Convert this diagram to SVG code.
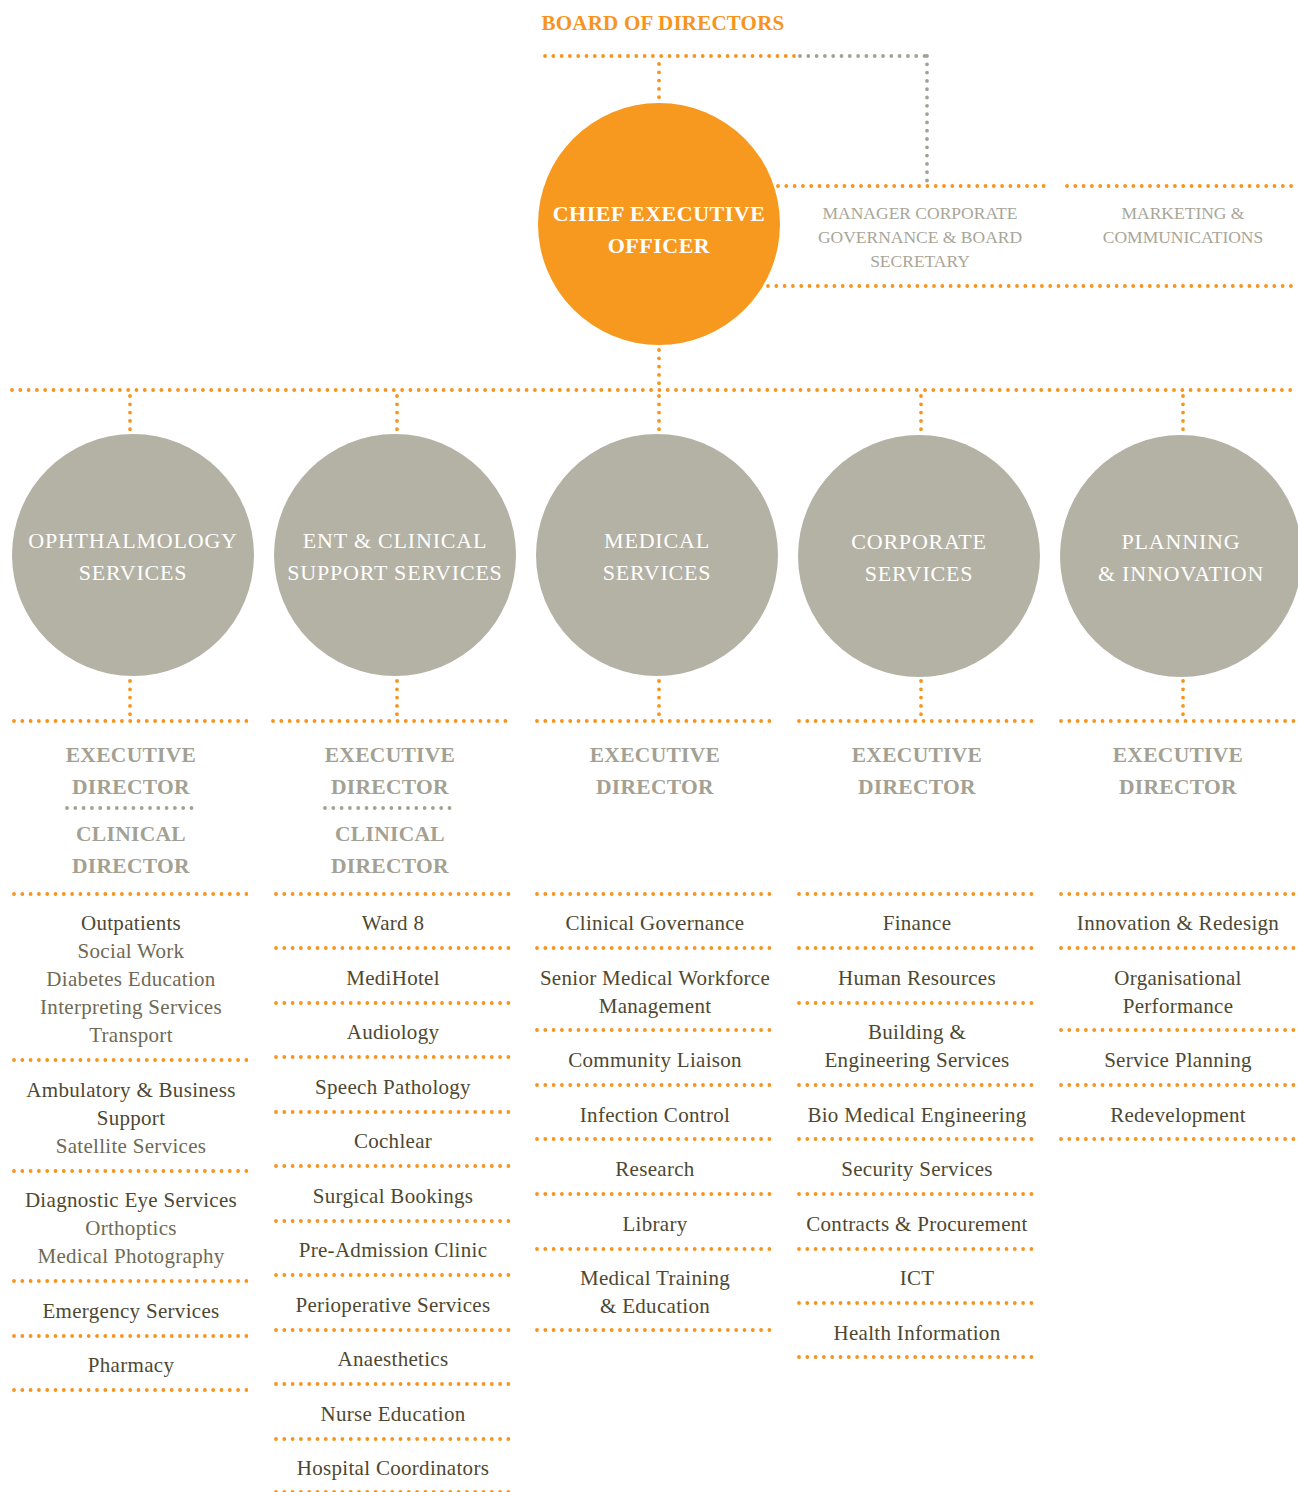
<svg xmlns="http://www.w3.org/2000/svg" width="1298" height="1492" viewBox="0 0 1298 1492">
<style>
.d{fill:none;stroke:#f7941d;stroke-width:3.8;stroke-linecap:round;stroke-dasharray:0 8.3}
.g{fill:none;stroke:#a3a196;stroke-width:3.8;stroke-linecap:round;stroke-dasharray:0 8.3}
text{font-family:"Liberation Serif","DejaVu Serif",serif;text-anchor:middle}
.board{fill:#f7941d;font-size:21px;font-weight:bold;letter-spacing:0.2px}
.ceo{fill:#fff;font-size:22px;font-weight:bold;letter-spacing:0.5px}
.side{fill:#a8a699;font-size:17.5px}
.circ{fill:#fff;font-size:22px;letter-spacing:0.8px}
.hd{fill:#a3a193;font-size:21.5px;font-weight:bold;letter-spacing:0.3px}
.it{fill:#4d4832;font-size:21px;letter-spacing:0.3px}
.sub{fill:#6e6a55;font-size:21px;letter-spacing:0.3px}
.gc{fill:#b4b2a5}
</style>
<g id="connectors">
<line class="d" x1="545" y1="56" x2="795" y2="56"/>
<line class="g" x1="800" y1="56" x2="927" y2="56"/>
<line class="g" x1="927" y1="56" x2="927" y2="182"/>
<line class="d" x1="659" y1="64" x2="659" y2="98"/>
<line class="d" x1="778" y1="186" x2="1044" y2="186"/>
<line class="d" x1="1067" y1="186" x2="1298" y2="186"/>
<line class="d" x1="768" y1="286" x2="1298" y2="286"/>
<line class="d" x1="659" y1="350" x2="659" y2="384"/>
<line class="d" x1="12" y1="390" x2="1298" y2="390"/>
<line class="d" x1="130" y1="396" x2="130" y2="430"/>
<line class="d" x1="397" y1="396" x2="397" y2="430"/>
<line class="d" x1="659" y1="396" x2="659" y2="430"/>
<line class="d" x1="921" y1="396" x2="921" y2="430"/>
<line class="d" x1="1183" y1="396" x2="1183" y2="430"/>
<line class="d" x1="130" y1="681" x2="130" y2="715"/>
<line class="d" x1="397" y1="681" x2="397" y2="715"/>
<line class="d" x1="659" y1="681" x2="659" y2="715"/>
<line class="d" x1="921" y1="681" x2="921" y2="715"/>
<line class="d" x1="1183" y1="681" x2="1183" y2="715"/>
</g>
<g id="board"><text class="board" x="663" y="30">BOARD OF DIRECTORS</text></g>
<g id="ceo">
<circle cx="659" cy="224" r="121" fill="#f7991f"/>
<text class="ceo" x="659" y="221">CHIEF EXECUTIVE</text>
<text class="ceo" x="659" y="253">OFFICER</text>
</g>
<g id="governance">
<text class="side" x="920" y="219">MANAGER CORPORATE</text>
<text class="side" x="920" y="243">GOVERNANCE &amp; BOARD</text>
<text class="side" x="920" y="267">SECRETARY</text>
</g>
<g id="marketing">
<text class="side" x="1183" y="219">MARKETING &amp;</text>
<text class="side" x="1183" y="243">COMMUNICATIONS</text>
</g>
<g id="ophthalmology">
<circle class="gc" cx="133" cy="555" r="121"/>
<text class="circ" x="133" y="548">OPHTHALMOLOGY</text>
<text class="circ" x="133" y="580">SERVICES</text>
</g>
<g id="ent">
<circle class="gc" cx="395" cy="555" r="121"/>
<text class="circ" x="395" y="548">ENT &amp; CLINICAL</text>
<text class="circ" x="395" y="580">SUPPORT SERVICES</text>
</g>
<g id="medical">
<circle class="gc" cx="657" cy="555" r="121"/>
<text class="circ" x="657" y="548">MEDICAL</text>
<text class="circ" x="657" y="580">SERVICES</text>
</g>
<g id="corporate">
<circle class="gc" cx="919" cy="556" r="121"/>
<text class="circ" x="919" y="549">CORPORATE</text>
<text class="circ" x="919" y="581">SERVICES</text>
</g>
<g id="planning">
<circle class="gc" cx="1181" cy="556" r="121"/>
<text class="circ" x="1181" y="549">PLANNING</text>
<text class="circ" x="1181" y="581">&amp; INNOVATION</text>
</g>
<g id="col1">
<line class="d" x1="14" y1="721" x2="250" y2="721"/>
<text class="hd" x="131" y="762">EXECUTIVE</text>
<text class="hd" x="131" y="794">DIRECTOR</text>
<line class="g" x1="67" y1="808" x2="198" y2="808"/>
<text class="hd" x="131" y="841">CLINICAL</text>
<text class="hd" x="131" y="873">DIRECTOR</text>
<line class="d" x1="14" y1="894" x2="250" y2="894"/>
<text class="it" x="131" y="930">Outpatients</text>
<text class="sub" x="131" y="958">Social Work</text>
<text class="sub" x="131" y="986">Diabetes Education</text>
<text class="sub" x="131" y="1014">Interpreting Services</text>
<text class="sub" x="131" y="1042">Transport</text>
<line class="d" x1="14" y1="1060" x2="250" y2="1060"/>
<text class="it" x="131" y="1097">Ambulatory &amp; Business</text>
<text class="it" x="131" y="1125">Support</text>
<text class="sub" x="131" y="1153">Satellite Services</text>
<line class="d" x1="14" y1="1171" x2="250" y2="1171"/>
<text class="it" x="131" y="1207">Diagnostic Eye Services</text>
<text class="sub" x="131" y="1235">Orthoptics</text>
<text class="sub" x="131" y="1263">Medical Photography</text>
<line class="d" x1="14" y1="1281" x2="250" y2="1281"/>
<text class="it" x="131" y="1318">Emergency Services</text>
<line class="d" x1="14" y1="1336" x2="250" y2="1336"/>
<text class="it" x="131" y="1372">Pharmacy</text>
<line class="d" x1="14" y1="1390" x2="250" y2="1390"/>
</g>
<g id="col2">
<line class="d" x1="273" y1="721" x2="509" y2="721"/>
<text class="hd" x="390" y="762">EXECUTIVE</text>
<text class="hd" x="390" y="794">DIRECTOR</text>
<line class="g" x1="325" y1="808" x2="456" y2="808"/>
<text class="hd" x="390" y="841">CLINICAL</text>
<text class="hd" x="390" y="873">DIRECTOR</text>
<line class="d" x1="276" y1="894" x2="512" y2="894"/>
<text class="it" x="393" y="930">Ward 8</text>
<line class="d" x1="276" y1="948" x2="512" y2="948"/>
<text class="it" x="393" y="985">MediHotel</text>
<line class="d" x1="276" y1="1003" x2="512" y2="1003"/>
<text class="it" x="393" y="1039">Audiology</text>
<line class="d" x1="276" y1="1057" x2="512" y2="1057"/>
<text class="it" x="393" y="1094">Speech Pathology</text>
<line class="d" x1="276" y1="1112" x2="512" y2="1112"/>
<text class="it" x="393" y="1148">Cochlear</text>
<line class="d" x1="276" y1="1166" x2="512" y2="1166"/>
<text class="it" x="393" y="1203">Surgical Bookings</text>
<line class="d" x1="276" y1="1221" x2="512" y2="1221"/>
<text class="it" x="393" y="1257">Pre-Admission Clinic</text>
<line class="d" x1="276" y1="1275" x2="512" y2="1275"/>
<text class="it" x="393" y="1312">Perioperative Services</text>
<line class="d" x1="276" y1="1330" x2="512" y2="1330"/>
<text class="it" x="393" y="1366">Anaesthetics</text>
<line class="d" x1="276" y1="1384" x2="512" y2="1384"/>
<text class="it" x="393" y="1421">Nurse Education</text>
<line class="d" x1="276" y1="1439" x2="512" y2="1439"/>
<text class="it" x="393" y="1475">Hospital Coordinators</text>
<line class="d" x1="276" y1="1492" x2="512" y2="1492"/>
</g>
<g id="col3">
<line class="d" x1="537" y1="721" x2="773" y2="721"/>
<text class="hd" x="655" y="762">EXECUTIVE</text>
<text class="hd" x="655" y="794">DIRECTOR</text>
<line class="d" x1="537" y1="894" x2="773" y2="894"/>
<text class="it" x="655" y="930">Clinical Governance</text>
<line class="d" x1="537" y1="948" x2="773" y2="948"/>
<text class="it" x="655" y="985">Senior Medical Workforce</text>
<text class="it" x="655" y="1013">Management</text>
<line class="d" x1="537" y1="1030" x2="773" y2="1030"/>
<text class="it" x="655" y="1067">Community Liaison</text>
<line class="d" x1="537" y1="1085" x2="773" y2="1085"/>
<text class="it" x="655" y="1122">Infection Control</text>
<line class="d" x1="537" y1="1139" x2="773" y2="1139"/>
<text class="it" x="655" y="1176">Research</text>
<line class="d" x1="537" y1="1194" x2="773" y2="1194"/>
<text class="it" x="655" y="1231">Library</text>
<line class="d" x1="537" y1="1249" x2="773" y2="1249"/>
<text class="it" x="655" y="1285">Medical Training</text>
<text class="it" x="655" y="1313">&amp; Education</text>
<line class="d" x1="537" y1="1330" x2="773" y2="1330"/>
</g>
<g id="col4">
<line class="d" x1="799" y1="721" x2="1035" y2="721"/>
<text class="hd" x="917" y="762">EXECUTIVE</text>
<text class="hd" x="917" y="794">DIRECTOR</text>
<line class="d" x1="799" y1="894" x2="1035" y2="894"/>
<text class="it" x="917" y="930">Finance</text>
<line class="d" x1="799" y1="948" x2="1035" y2="948"/>
<text class="it" x="917" y="985">Human Resources</text>
<line class="d" x1="799" y1="1003" x2="1035" y2="1003"/>
<text class="it" x="917" y="1039">Building &amp;</text>
<text class="it" x="917" y="1067">Engineering Services</text>
<line class="d" x1="799" y1="1085" x2="1035" y2="1085"/>
<text class="it" x="917" y="1122">Bio Medical Engineering</text>
<line class="d" x1="799" y1="1139" x2="1035" y2="1139"/>
<text class="it" x="917" y="1176">Security Services</text>
<line class="d" x1="799" y1="1194" x2="1035" y2="1194"/>
<text class="it" x="917" y="1231">Contracts &amp; Procurement</text>
<line class="d" x1="799" y1="1249" x2="1035" y2="1249"/>
<text class="it" x="917" y="1285">ICT</text>
<line class="d" x1="799" y1="1303" x2="1035" y2="1303"/>
<text class="it" x="917" y="1340">Health Information</text>
<line class="d" x1="799" y1="1357" x2="1035" y2="1357"/>
</g>
<g id="col5">
<line class="d" x1="1061" y1="721" x2="1297" y2="721"/>
<text class="hd" x="1178" y="762">EXECUTIVE</text>
<text class="hd" x="1178" y="794">DIRECTOR</text>
<line class="d" x1="1061" y1="894" x2="1297" y2="894"/>
<text class="it" x="1178" y="930">Innovation &amp; Redesign</text>
<line class="d" x1="1061" y1="948" x2="1297" y2="948"/>
<text class="it" x="1178" y="985">Organisational</text>
<text class="it" x="1178" y="1013">Performance</text>
<line class="d" x1="1061" y1="1030" x2="1297" y2="1030"/>
<text class="it" x="1178" y="1067">Service Planning</text>
<line class="d" x1="1061" y1="1085" x2="1297" y2="1085"/>
<text class="it" x="1178" y="1122">Redevelopment</text>
<line class="d" x1="1061" y1="1139" x2="1297" y2="1139"/>
</g>
</svg>
